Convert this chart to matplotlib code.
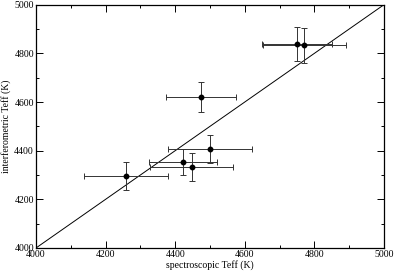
import matplotlib
matplotlib.use("Agg")
import matplotlib.pyplot as plt
from matplotlib.ticker import MultipleLocator

spec_teff = [4259, 4423, 4447, 4500, 4474, 4750, 4771]
spec_err = [120, 98, 120, 121, 100, 101, 120]
interf_teff = [4297, 4354, 4333, 4407, 4621, 4840, 4833]
interf_err = [57, 54, 58, 57, 62, 70, 73]

plt.rcParams['font.family'] = ['Liberation Serif', 'DejaVu Serif']

fig = plt.figure(figsize=(3.95, 2.73), dpi=100)
ax = fig.add_axes([0.0911, 0.0916, 0.881, 0.8912])

ax.plot([4000, 5000], [4000, 5000], color='black', lw=0.7)
ax.errorbar(spec_teff, interf_teff, xerr=spec_err, yerr=interf_err,
            fmt='o', color='black', ms=3.2, ecolor='#333333', elinewidth=0.7,
            capsize=2.5, capthick=0.7)

ax.set_xlim(4000, 5000)
ax.set_ylim(4000, 5000)
ax.xaxis.set_major_locator(MultipleLocator(200))
ax.xaxis.set_minor_locator(MultipleLocator(100))
ax.yaxis.set_major_locator(MultipleLocator(200))
ax.yaxis.set_minor_locator(MultipleLocator(100))
ax.tick_params(which='both', direction='in', top=True, right=True, labelsize=7, pad=1.5)
ax.tick_params(which='major', length=5, width=0.7)
ax.tick_params(which='minor', length=2.5, width=0.7)
for s in ax.spines.values():
    s.set_linewidth(0.9)

ax.set_xlabel('spectroscopic Teff (K)', fontsize=7, labelpad=1)
ax.set_ylabel('interferometric Teff (K)', fontsize=7, labelpad=2)

fig.savefig('out.png', dpi=100)
